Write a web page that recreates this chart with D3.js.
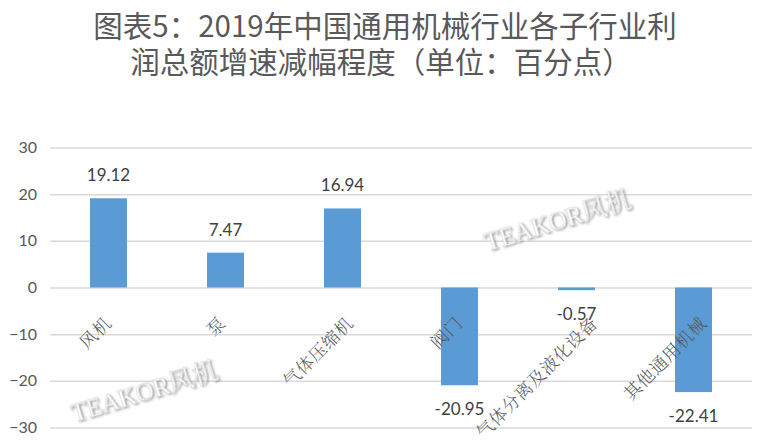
<!DOCTYPE html>
<html>
<head>
<meta charset="utf-8">
<script src="https://cdn.jsdelivr.net/npm/d3@7"></script>
<style>
  html, body { margin: 0; padding: 0; background: #fff; }
  svg { display: block; }
</style>
</head>
<body>
<svg id="chart" width="768" height="448"></svg>
<script>
const titleLines = ["图表5：2019年中国通用机械行业各子行业利", "润总额增速减幅程度（单位：百分点）"];
const categories = ["风机", "泵", "气体压缩机", "阀门", "气体分离及液化设备", "其他通用机械"];
const values = [19.12, 7.47, 16.94, -20.95, -0.57, -22.41];
const yTicks = [-30, -20, -10, 0, 10, 20, 30];
const watermarkText = "TEAKOR风机";

const svg = d3.select("#chart");

const defs = svg.append("defs");
const f = defs.append("filter").attr("id", "wmShadow").attr("x", "-10%").attr("y", "-30%").attr("width", "130%").attr("height", "170%");
f.append("feDropShadow").attr("dx", 1.2).attr("dy", 1.2).attr("stdDeviation", 0.9).attr("flood-color", "#7f7f7f").attr("flood-opacity", 0.9);

// Title (one text element, two lines)
const title = svg.append("text")
  .attr("text-anchor", "middle")
  .attr("font-family", "'Noto Sans CJK SC', 'Microsoft YaHei', sans-serif")
  .attr("font-size", 29.5)
  .attr("fill", "#595959");
title.selectAll("tspan").data(titleLines).join("tspan")
  .attr("x", (d, i) => i === 0 ? 385 : 381)
  .attr("y", (d, i) => 37 + i * 36)
  .text(d => d);

const x = d3.scaleBand().domain(categories).range([50, 752]).paddingInner(0.684).paddingOuter(0.342);
const y = d3.scaleLinear().domain([-30, 30]).range([427.5, 147.5]);

// Gridlines + y tick labels
const yAxis = d3.axisLeft(y).tickValues(yTicks).tickSize(-(752 - 50)).tickPadding(13).tickFormat(d3.format("d"));
const gy = svg.append("g").attr("transform", "translate(50,0)").call(yAxis);
gy.select(".domain").remove();
gy.selectAll(".tick line").attr("stroke", "#d9d9d9").attr("stroke-width", 1.5);
gy.selectAll(".tick text")
  .attr("font-family", "Lato, 'Open Sans', sans-serif")
  .attr("font-size", 16)
  .attr("fill", "#595959");

// Bars
svg.append("g").selectAll("rect").data(values).join("rect")
  .attr("x", (d, i) => x(categories[i]))
  .attr("width", x.bandwidth())
  .attr("y", d => y(Math.max(0, d)))
  .attr("height", d => Math.abs(y(d) - y(0)))
  .attr("fill", "#5b9bd5");

// Category labels (rotated)
svg.append("g").selectAll("text").data(categories).join("text")
  .attr("transform", (d) => {
    const cx = x(d) + x.bandwidth() / 2 + (-1 + 2.6 * d.length);
    const cy = y(0) + 37;
    return `translate(${cx},${cy}) rotate(-45)`;
  })
  .attr("text-anchor", "end")
  .attr("font-family", "'Noto Serif CJK SC', 'Noto Sans CJK SC', serif")
  .attr("font-weight", 300)
  .attr("font-size", 17.5)
  .attr("letter-spacing", 0.6)
  .attr("fill", "#595959")
  .text(d => d);

// Data labels
svg.append("g").selectAll("text").data(values).join("text")
  .attr("x", (d, i) => x(categories[i]) + x.bandwidth() / 2)
  .attr("y", d => d >= 0 ? y(d) - 17 : y(d) + 30)
  .attr("text-anchor", "middle")
  .attr("font-family", "Lato, 'Open Sans', sans-serif")
  .attr("font-size", 17)
  .attr("fill", "#404040")
  .text(d => d.toFixed(2));

// Watermarks
const wmPos = [[147, 400], [560, 229]];
svg.append("g").selectAll("text").data(wmPos).join("text")
  .attr("transform", d => `translate(${d[0]},${d[1]}) rotate(-17)`)
  .attr("text-anchor", "middle")
  .attr("font-family", "'Liberation Serif', 'Noto Serif CJK SC', 'Noto Sans CJK SC', serif")
  .attr("font-size", 25)
  .attr("fill", "#ffffff")
  .attr("stroke", "#d0d0d0")
  .attr("stroke-width", 0.4)
  .attr("filter", "url(#wmShadow)")
  .text(watermarkText);
</script>
</body>
</html>
